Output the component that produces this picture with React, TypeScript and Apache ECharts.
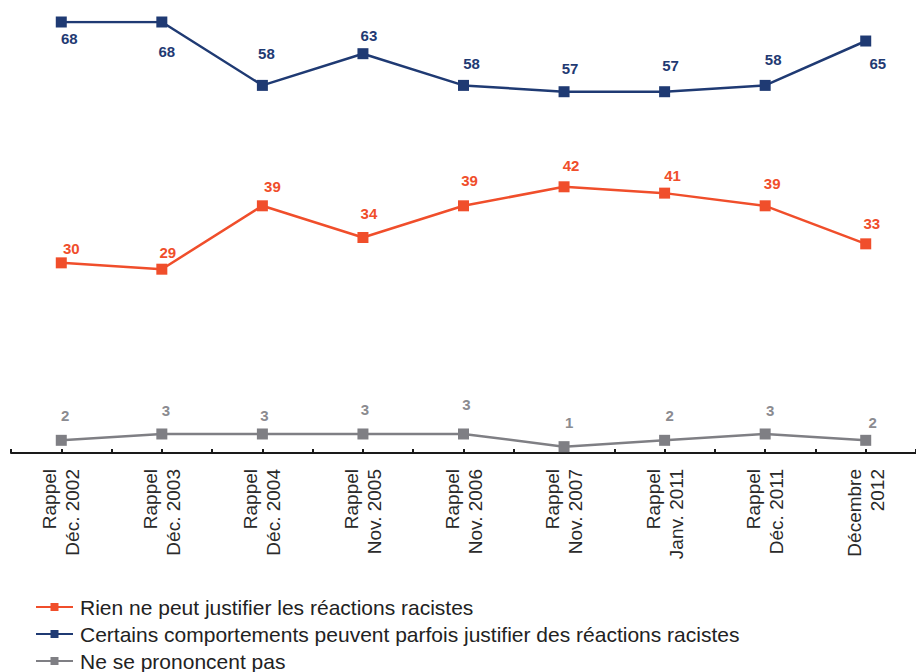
import React, { useEffect, useRef } from "react";
import * as echarts from "echarts";

const categories = [
  "Rappel\nDéc. 2002",
  "Rappel\nDéc. 2003",
  "Rappel\nDéc. 2004",
  "Rappel\nNov. 2005",
  "Rappel\nNov. 2006",
  "Rappel\nNov. 2007",
  "Rappel\nJanv. 2011",
  "Rappel\nDéc. 2011",
  "Décembre\n2012",
];

const rienValues = [30, 29, 39, 34, 39, 42, 41, 39, 33];
const certainsValues = [68, 68, 58, 63, 58, 57, 57, 58, 65];
const nspValues = [2, 3, 3, 3, 3, 1, 2, 3, 2];

const seriesNames = [
  "Rien ne peut justifier les réactions racistes",
  "Certains comportements peuvent parfois justifier des réactions racistes",
  "Ne se prononcent pas",
];

// label offsets (label centre relative to marker centre), styling only
const rienOffsets = [[10, -14], [6, -17], [10, -19], [6, -24], [6, -25], [7, -21], [8, -18], [7, -22], [6, -20]];
const certainsOffsets = [[8, 16], [5, 29], [4, -32], [6, -18], [8, -22], [6, -23], [6, -26], [8, -26], [12, 22]];
const nspOffsets = [[4, -25], [4, -23], [2, -18], [2, -24], [3, -29], [5, -24], [5, -25], [5, -23], [7, -18]];

const ORANGE = "#f04e2b";
const BLUE = "#1f3a73";
const GRAY = "#7f7f84";
const GRAY_LABEL = "#8b8b90";

function buildData(values: number[], offsets: number[][], color: string) {
  return values.map((v, i) => ({
    value: v,
    label: {
      show: true,
      position: "inside",
      offset: offsets[i],
      align: "center",
      verticalAlign: "middle",
      color,
      fontSize: 15,
      fontWeight: "bold",
      fontFamily: "Liberation Sans, Arial, sans-serif",
    },
  }));
}

export default function App() {
  const ref = useRef<HTMLDivElement>(null);

  useEffect(() => {
    if (!ref.current) return;
    const chart = echarts.init(ref.current, undefined, { renderer: "svg" });
    const lineSeries = (name: string, values: number[], offsets: number[][], color: string, labelColor: string) => ({
      name,
      type: "line",
      xAxisIndex: 0,
      data: buildData(values, offsets, labelColor),
      symbol: "rect",
      symbolSize: 11,
      lineStyle: { color, width: 2.5 },
      itemStyle: { color },
      z: 3,
    });
    chart.setOption({
      animation: false,
      backgroundColor: "#ffffff",
      grid: { left: 11, right: -6.25, top: 22, bottom: 219, containLabel: false },
      legend: {
        orient: "vertical",
        left: 35,
        top: 596,
        height: 120,
        padding: 0,
        itemWidth: 37,
        itemHeight: 10,
        itemGap: 5,
        textStyle: {
          fontSize: 21,
          lineHeight: 22,
          color: "#222222",
          fontFamily: "Liberation Sans, Arial, sans-serif",
          padding: [0, 0, 0, 2],
        },
        data: [seriesNames[0], seriesNames[1], seriesNames[2]],
      },
      xAxis: [
        {
          type: "category",
          data: categories,
          boundaryGap: true,
          position: "bottom",
          axisLine: { show: true, lineStyle: { color: "#1a1a1a", width: 2 } },
          axisTick: { show: true, inside: true, length: 4, lineStyle: { color: "#1a1a1a", width: 2 } },
          axisLabel: {
            show: true,
            rotate: 90,
            margin: 16,
            interval: 0,
            fontSize: 19,
            lineHeight: 23,
            color: "#2a2a2a",
            fontFamily: "Liberation Sans, Arial, sans-serif",
          },
          splitLine: { show: false },
        },
        {
          type: "category",
          data: categories,
          boundaryGap: true,
          position: "bottom",
          axisLine: { show: false },
          axisTick: { show: true, alignWithLabel: true, inside: true, length: 4, lineStyle: { color: "#1a1a1a", width: 2 } },
          axisLabel: { show: false },
          splitLine: { show: false },
        },
      ],
      yAxis: {
        type: "value",
        min: 0,
        max: 68,
        show: false,
        splitLine: { show: false },
      },
      series: [
        lineSeries(seriesNames[0], rienValues, rienOffsets, ORANGE, ORANGE),
        lineSeries(seriesNames[1], certainsValues, certainsOffsets, BLUE, BLUE),
        lineSeries(seriesNames[2], nspValues, nspOffsets, GRAY, GRAY_LABEL),
      ],
    });
    return () => chart.dispose();
  }, []);

  return (
    <div
      ref={ref}
      style={{ position: "absolute", left: 0, top: 0, width: 916, height: 672 }}
    />
  );
}
